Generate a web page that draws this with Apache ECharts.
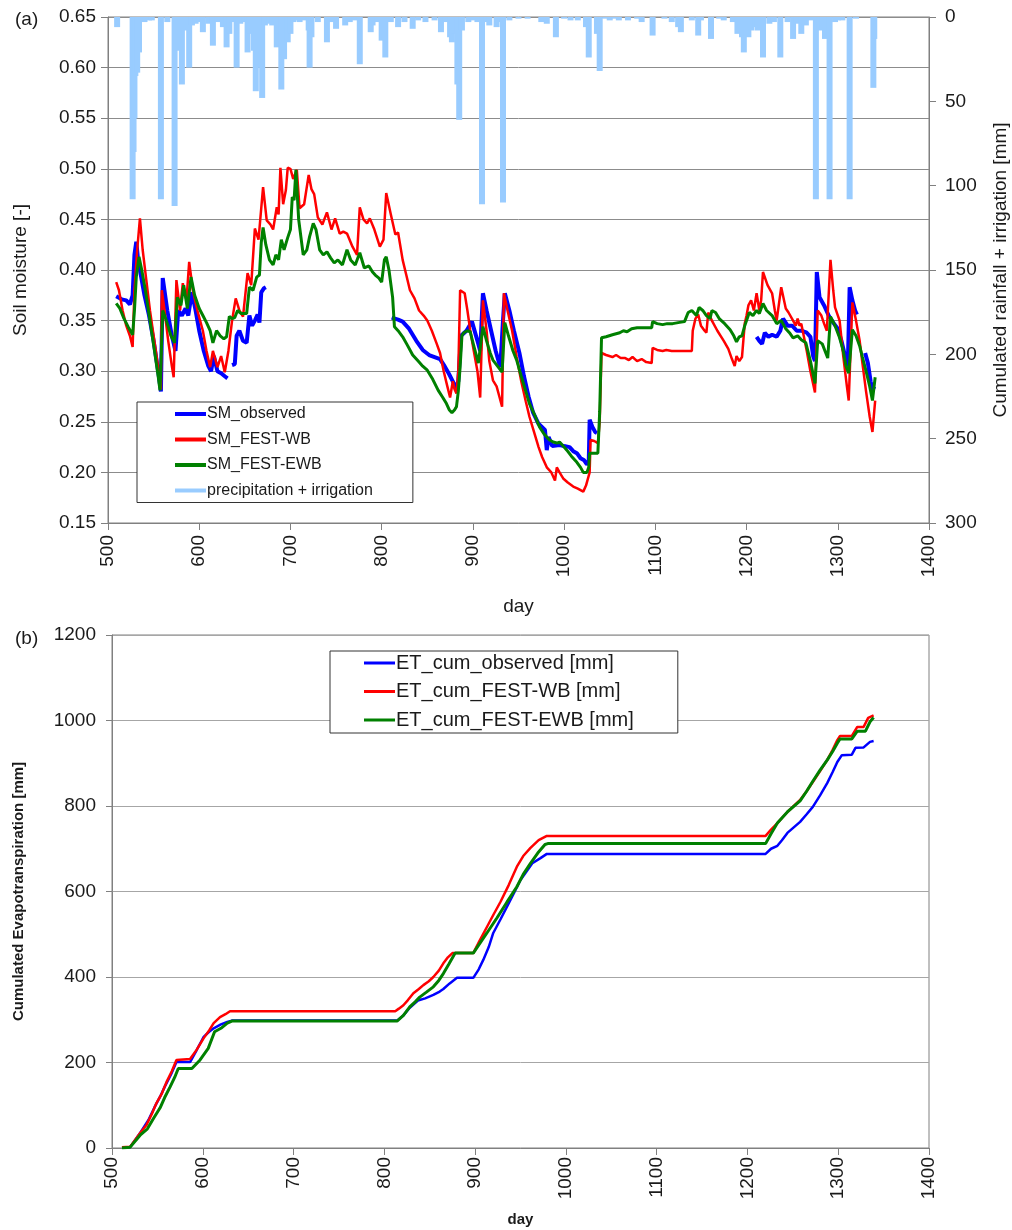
<!DOCTYPE html>
<html>
<head>
<meta charset="utf-8">
<script src="https://cdn.jsdelivr.net/npm/echarts@6/dist/echarts.min.js"></script>
<style>
html,body{margin:0;padding:0;background:#fff;}
#chart{width:1012px;height:1230px;}
</style>
</head>
<body>
<div id="chart"></div>
<script>
// ---------- Panel (a): soil moisture [day, value]; '-' marks a gap ----------
const smObserved = [
  [509,0.374],[515,0.371],[520,0.370],[524,0.366],[527,0.375],[529,0.415],[531,0.428],[533,0.41],[536,0.395],[540,0.375],
  [545,0.355],[550,0.33],[555,0.30],[558,0.28],[560,0.392],[565,0.36],[570,0.335],[574,0.32],[577,0.36],[581,0.355],
  [585,0.362],[588,0.355],[592,0.378],[596,0.36],[600,0.34],[605,0.32],[610,0.305],[613,0.30],[616,0.315],[620,0.30],
  [624,0.298],[628,0.295],[631,0.293],[633,'-'],[636,0.306],[639,0.307],[641,0.335],[644,0.34],[648,0.33],[652,0.328],
  [655,0.355],[658,0.345],[661,0.35],[664,0.356],[666,0.348],[668,0.378],[671,0.382],[673,0.383],[700,'-'],
  [811,0.353],[818,0.351],[823,0.349],[830,0.342],[838,0.33],[845,0.321],[852,0.316],[858,0.314],[864,0.312],[869,0.305],
  [874,0.297],[878,0.29],[881,0.283],[884,0.29],[887,0.335],[893,0.34],[899,0.349],[905,0.33],[908,0.32],[911,0.377],
  [915,0.36],[920,0.34],[925,0.32],[930,0.304],[933,0.35],[935,0.377],[940,0.36],[945,0.34],[951,0.318],[956,0.295],
  [961,0.275],[966,0.259],[972,0.248],[979,0.242],[981,0.222],[983,0.235],[987,0.226],[995,0.227],[1000,0.226],[1006,0.225],
  [1010,0.221],[1014,0.219],[1018,0.214],[1022,0.212],[1025,0.208],[1027,0.21],[1028,0.252],[1031,0.245],[1034,0.24],[1036,0.239],
  [1100,'-'],
  [1211,0.334],[1214,0.33],[1217,0.327],[1220,0.338],[1224,0.334],[1228,0.336],[1233,0.334],[1237,0.34],[1240,0.352],[1245,0.345],
  [1250,0.345],[1255,0.34],[1260,0.34],[1266,0.338],[1270,0.334],[1273,0.315],[1275,0.31],[1277,0.398],[1280,0.373],[1285,0.365],
  [1290,0.355],[1295,0.348],[1300,0.342],[1304,0.33],[1308,0.315],[1311,0.305],[1313,0.383],[1316,0.37],[1319,0.36],[1321,0.356],
  [1325,'-'],[1330,0.318],[1333,0.308],[1336,0.29],[1338,0.281],[1340,0.285]
];
const smFestWB = [
  [509,0.388],[512,0.38],[516,0.36],[520,0.345],[524,0.335],[527,0.324],[529,0.38],[532,0.42],[535,0.451],[538,0.42],
  [542,0.39],[546,0.36],[550,0.335],[554,0.31],[558,0.282],[559,0.38],[562,0.36],[566,0.33],[570,0.305],[572,0.294],
  [575,0.39],[579,0.36],[582,0.387],[586,0.37],[589,0.408],[593,0.38],[598,0.36],[604,0.34],[608,0.32],[612,0.304],
  [615,0.32],[620,0.304],[624,0.315],[628,0.299],[632,0.32],[636,0.35],[640,0.372],[644,0.36],[648,0.354],[653,0.397],
  [657,0.385],[661,0.441],[665,0.43],[670,0.482],[674,0.449],[678,0.445],[681,0.44],[685,0.462],[687,0.455],[689,0.501],
  [692,0.465],[695,0.479],[697,0.501],[700,0.5],[703,0.49],[707,0.499],[710,0.461],[715,0.465],[720,0.494],[723,0.48],
  [726,0.475],[730,0.452],[735,0.445],[740,0.457],[745,0.44],[749,0.451],[754,0.436],[758,0.438],[762,0.436],[768,0.423],
  [773,0.415],[776,0.462],[780,0.45],[784,0.446],[787,0.451],[792,0.44],[798,0.423],[802,0.43],[805,0.476],[810,0.455],
  [815,0.435],[818,0.437],[823,0.41],[827,0.395],[831,0.38],[836,0.372],[841,0.36],[846,0.355],[850,0.35],[855,0.34],
  [860,0.328],[864,0.318],[868,0.3],[872,0.285],[875,0.274],[878,0.29],[880,0.282],[882,0.278],[884,0.3],[886,0.38],
  [888,0.38],[891,0.377],[894,0.36],[897,0.341],[901,0.32],[905,0.3],[908,0.274],[911,0.37],[915,0.34],[918,0.31],
  [922,0.291],[926,0.285],[929,0.275],[932,0.265],[934,0.377],[938,0.36],[943,0.34],[948,0.314],[953,0.29],[958,0.27],
  [962,0.255],[967,0.24],[972,0.225],[976,0.215],[981,0.205],[986,0.2],[990,0.192],[992,0.205],[995,0.2],[999,0.194],
  [1004,0.19],[1010,0.186],[1015,0.184],[1021,0.181],[1024,0.187],[1026,0.186],[1028,0.2],[1029,0.232],[1033,0.231],[1037,0.229],
  [1039,0.25],[1041,0.318],[1046,0.316],[1053,0.314],[1057,0.316],[1062,0.313],[1067,0.313],[1071,0.311],[1075,0.314],[1080,0.31],
  [1085,0.312],[1090,0.309],[1096,0.308],[1097,0.323],[1102,0.321],[1108,0.32],[1112,0.321],[1118,0.32],[1123,0.32],[1128,0.32],
  [1135,0.32],[1140,0.32],[1141,0.34],[1144,0.352],[1147,0.356],[1150,0.345],[1154,0.34],[1156,0.338],[1158,0.358],[1162,0.35],
  [1168,0.34],[1175,0.33],[1180,0.322],[1184,0.312],[1187,0.305],[1189,0.315],[1192,0.31],[1195,0.314],[1198,0.347],[1200,0.355],
  [1202,0.365],[1205,0.37],[1208,0.36],[1211,0.377],[1214,0.36],[1216,0.37],[1218,0.398],[1223,0.385],[1228,0.377],[1231,0.36],
  [1233,0.35],[1238,0.383],[1243,0.362],[1246,0.358],[1251,0.35],[1254,0.345],[1256,0.352],[1258,0.345],[1260,0.347],[1262,0.338],
  [1266,0.32],[1270,0.3],[1275,0.279],[1278,0.36],[1282,0.355],[1285,0.347],[1288,0.34],[1292,0.41],[1295,0.38],[1297,0.363],
  [1302,0.35],[1306,0.315],[1310,0.285],[1312,0.271],[1316,0.368],[1320,0.35],[1324,0.33],[1327,0.308],[1331,0.28],[1335,0.255],
  [1338,0.24],[1341,0.271]
];
const smFestEWB = [
  [509,0.367],[513,0.362],[517,0.353],[522,0.344],[527,0.336],[529,0.36],[531,0.393],[534,0.413],[537,0.40],[541,0.38],
  [546,0.35],[551,0.32],[555,0.295],[557,0.281],[560,0.36],[564,0.35],[569,0.335],[573,0.328],[576,0.373],[580,0.365],
  [583,0.385],[587,0.362],[591,0.393],[595,0.375],[600,0.362],[604,0.355],[608,0.348],[612,0.34],[615,0.328],[619,0.34],
  [623,0.335],[627,0.332],[630,0.334],[633,0.354],[636,0.352],[639,0.353],[642,0.36],[646,0.357],[652,0.357],[655,0.383],
  [659,0.38],[663,0.393],[666,0.395],[668,0.427],[670,0.442],[673,0.425],[677,0.41],[681,0.405],[684,0.415],[687,0.41],
  [690,0.43],[693,0.42],[697,0.432],[700,0.44],[702,0.472],[704,0.469],[706,0.499],[709,0.45],[714,0.415],[718,0.42],
  [721,0.433],[725,0.446],[728,0.44],[732,0.42],[736,0.415],[740,0.418],[744,0.412],[748,0.407],[752,0.41],[757,0.405],
  [762,0.42],[766,0.41],[771,0.405],[776,0.417],[781,0.402],[786,0.404],[790,0.398],[793,0.395],[797,0.392],[800,0.388],
  [803,0.41],[805,0.413],[808,0.4],[812,0.373],[814,0.344],[818,0.34],[823,0.334],[828,0.326],[834,0.316],[840,0.31],
  [845,0.305],[850,0.301],[856,0.292],[862,0.281],[867,0.274],[871,0.268],[874,0.262],[877,0.259],[880,0.262],[882,0.265],
  [884,0.28],[886,0.304],[888,0.335],[890,0.338],[894,0.34],[897,0.339],[901,0.325],[906,0.308],[909,0.33],[911,0.344],
  [915,0.33],[919,0.318],[922,0.311],[927,0.305],[932,0.299],[935,0.348],[939,0.335],[944,0.32],[948,0.311],[953,0.295],
  [958,0.28],[962,0.268],[968,0.256],[973,0.245],[978,0.238],[984,0.232],[988,0.23],[992,0.229],[995,0.23],[999,0.226],
  [1003,0.222],[1008,0.216],[1014,0.21],[1018,0.205],[1021,0.2],[1025,0.2],[1027,0.205],[1028,0.219],[1032,0.219],[1037,0.219],
  [1039,0.26],[1041,0.333],[1046,0.334],[1053,0.336],[1057,0.337],[1061,0.338],[1065,0.34],[1069,0.339],[1074,0.342],[1080,0.343],
  [1088,0.343],[1096,0.343],[1097,0.349],[1102,0.347],[1108,0.346],[1113,0.347],[1119,0.347],[1125,0.348],[1132,0.349],[1136,0.358],
  [1140,0.36],[1145,0.355],[1148,0.363],[1152,0.36],[1156,0.355],[1160,0.352],[1162,0.36],[1166,0.358],[1170,0.352],[1176,0.347],
  [1182,0.341],[1186,0.335],[1189,0.329],[1192,0.334],[1195,0.335],[1198,0.345],[1200,0.35],[1203,0.358],[1207,0.355],[1211,0.36],
  [1214,0.357],[1218,0.367],[1222,0.36],[1228,0.355],[1233,0.347],[1238,0.35],[1243,0.342],[1247,0.338],[1251,0.333],[1256,0.335],
  [1260,0.331],[1265,0.328],[1270,0.31],[1275,0.288],[1278,0.33],[1283,0.327],[1286,0.32],[1289,0.313],[1292,0.354],[1297,0.345],
  [1302,0.333],[1306,0.32],[1309,0.305],[1312,0.298],[1316,0.341],[1320,0.335],[1324,0.325],[1327,0.314],[1331,0.3],[1335,0.285],
  [1338,0.271],[1341,0.294]
];
// precipitation + irrigation [day, mm]
const precipIrrigation = [
  [510,6],[527,108],[528,80],[529,60],[530,35],[532,33],[534,21],[540,3],[545,2],[548,2],[558,108],[565,3],[573,112],
  [575,20],[578,6],[581,40],[584,8],[589,30],[592,5],[596,4],[600,3],[604,9],[610,4],[615,17],[620,3],[626,6],[630,18],
  [633,10],[636,3],[641,30],[645,4],[650,3],[653,21],[655,10],[660,20],[662,44],[666,30],[669,48],[672,5],[677,4],[680,5],
  [685,18],[688,10],[690,43],[693,25],[697,15],[700,10],[703,3],[705,2],[710,3],[715,2],[720,8],[721,30],[723,12],[730,3],
  [740,15],[745,3],[750,7],[760,5],[765,3],[770,2],[776,28],[788,9],[790,5],[795,3],[800,14],[804,24],[810,3],[818,6],
  [825,3],[834,7],[840,2],[848,3],[858,2],[865,9],[870,3],[875,12],[877,15],[880,10],[883,40],[885,61],[888,8],[895,3],
  [900,2],[905,3],[910,111],[915,3],[918,5],[926,6],[930,3],[933,110],[940,2],[950,1],[960,1],[975,3],[981,4],[991,12],
  [1000,1],[1007,2],[1015,2],[1024,6],[1027,24],[1036,10],[1039,32],[1045,1],[1050,2],[1055,1],[1060,2],[1070,2],[1080,1],
  [1085,3],[1097,11],[1110,1],[1118,3],[1125,6],[1128,9],[1140,2],[1147,11],[1150,2],[1161,13],[1170,1],[1175,2],[1185,3],
  [1190,10],[1195,12],[1197,21],[1202,12],[1205,8],[1207,5],[1210,6],[1212,8],[1218,24],[1225,4],[1230,3],[1237,24],
  [1245,3],[1251,13],[1255,4],[1260,10],[1265,5],[1270,2],[1276,108],[1280,8],[1283,6],[1286,13],[1291,108],[1297,3],
  [1300,2],[1305,2],[1313,108],[1320,1],[1339,42],[1340,13]
];
// ---------- Panel (b): cumulated ET [day, mm] ----------
const etObserved = [
  [511,2],[520,2],[531,35],[540,65],[547,96],[553,120],[558,143],[565,172],[571,201],[586,201],[593,228],[601,260],
  [607,272],[612,280],[620,289],[627,295],[632,298],[814,298],[821,310],[828,328],[837,345],[845,350],[854,358],[861,366],
  [865,372],[872,385],[880,398],[898,398],[904,418],[909,440],[915,470],[920,503],[928,535],[935,564],[943,597],[950,627],
  [957,648],[963,666],[972,678],[979,688],[1220,688],[1226,700],[1233,707],[1238,720],[1244,737],[1251,750],[1258,763],
  [1265,780],[1272,798],[1280,825],[1288,854],[1294,880],[1299,903],[1304,919],[1315,920],[1319,936],[1328,937],[1335,950],[1339,952]
];
const etFestWB = [
  [511,2],[520,3],[531,35],[538,54],[544,80],[549,105],[555,128],[560,154],[566,180],[571,206],[586,208],[593,229],
  [601,257],[607,275],[612,292],[619,306],[625,313],[630,320],[812,320],[816,326],[821,334],[826,346],[832,362],[838,372],
  [843,381],[849,390],[854,400],[860,415],[865,432],[870,446],[875,456],[898,456],[905,485],[913,517],[920,545],[928,576],
  [937,615],[946,658],[953,683],[961,702],[970,720],[979,730],[1220,730],[1226,745],[1233,760],[1238,772],[1244,786],
  [1251,800],[1258,814],[1265,834],[1272,856],[1280,882],[1288,908],[1294,932],[1299,954],[1302,964],[1315,964],
  [1321,985],[1328,985],[1333,1006],[1339,1012]
];
const etFestEWB = [
  [511,0],[520,2],[531,30],[539,45],[546,70],[553,94],[558,118],[564,143],[569,165],[573,186],[588,186],[597,206],
  [606,233],[613,272],[620,280],[627,292],[632,297],[814,297],[821,310],[828,330],[834,342],[839,353],[846,364],[854,377],
  [860,392],[865,408],[871,430],[878,456],[898,456],[905,478],[913,503],[924,538],[935,575],[946,611],[953,640],[961,666],
  [969,690],[977,710],[980,712],[1220,712],[1226,735],[1233,760],[1238,772],[1244,786],[1251,799],[1258,812],[1265,834],
  [1272,858],[1280,884],[1288,908],[1294,928],[1299,947],[1302,957],[1315,957],[1321,975],[1330,975],[1335,997],[1339,1007]
];

const FONT = '"Liberation Sans", Arial, sans-serif';
const TXT = '#1a1a1a';
const AXC = '#808080';
const PRECIP_COLOR = '#99ccff';

const chart = echarts.init(document.getElementById('chart'), null, {renderer:'canvas'});
const baseX = (gi, nameBold, nameGap, margin) => ({
  type:'value', gridIndex:gi, min:500, max:1400, interval:100,
  name:'day', nameLocation:'middle', nameGap:nameGap,
  nameTextStyle:{fontFamily:FONT, fontSize: nameBold?15:19, fontWeight: nameBold?'bold':'normal', color:TXT},
  axisLine:{show:true, onZero:false, lineStyle:{color:AXC}},
  axisTick:{show:true, inside:false, length:7, lineStyle:{color:AXC}},
  axisLabel:{rotate:90, fontFamily:FONT, fontSize:19, color:TXT, margin:margin, formatter:v=>String(v)},
  splitLine:{show:false}
});

// precipitation drawn as thin rectangles hanging from 0 on the inverted right axis
function renderPrecip(params, api) {
  const day = api.value(0), mm = api.value(1);
  const top = api.coord([day, 0]);
  const bot = api.coord([day, mm]);
  const w = 6;
  return {
    type:'rect',
    shape:{x: top[0] - w/2, y: Math.min(top[1], bot[1]), width: w, height: Math.abs(bot[1] - top[1])},
    style:{fill: PRECIP_COLOR}
  };
}

const option = {
  animation:false,
  backgroundColor:'#ffffff',
  textStyle:{fontFamily:FONT},
  title:[
    {text:'(a)', left:10, top:5, textStyle:{fontFamily:FONT, fontSize:19, fontWeight:'normal', color:TXT}},
    {text:'(b)', left:10, top:624, textStyle:{fontFamily:FONT, fontSize:19, fontWeight:'normal', color:TXT}}
  ],
  grid:[
    {left:108, top:17, width:821, height:506, show:true, borderColor:AXC, borderWidth:1,
     containLabel:false, outerBoundsMode:'none'},
    {left:112, top:635, width:817, height:513, show:true, borderColor:AXC, borderWidth:1,
     containLabel:false, outerBoundsMode:'none'}
  ],
  legend:[
    {
      data:['SM_observed','SM_FEST-WB','SM_FEST-EWB','precipitation + irrigation'],
      orient:'vertical', left:137, top:402, icon:'rect', itemWidth:31, itemHeight:4, itemGap:9.5,
      borderColor:'#333', borderWidth:1, padding:[4,40,4,38], backgroundColor:'#fff',
      textStyle:{fontFamily:FONT, fontSize:16, color:TXT, padding:[0,0,0,-4]}, selectedMode:false
    },
    {
      data:['ET_cum_observed [mm]','ET_cum_FEST-WB [mm]','ET_cum_FEST-EWB [mm]'],
      orient:'vertical', left:330, top:651, icon:'rect', itemWidth:31, itemHeight:3, itemGap:8.5,
      borderColor:'#333', borderWidth:1, padding:[2,44,3,34], backgroundColor:'#fff',
      textStyle:{fontFamily:FONT, fontSize:20, color:TXT, padding:[0,0,0,-4]}, selectedMode:false
    }
  ],
  xAxis:[ baseX(0,false,74,12), baseX(1,true,64,9) ],
  yAxis:[
    { type:'value', gridIndex:0, min:0.15, max:0.65, interval:0.05, position:'left',
      name:'Soil moisture [-]', nameLocation:'middle', nameGap:78,
      nameTextStyle:{fontFamily:FONT, fontSize:19, color:TXT},
      axisLine:{show:true, lineStyle:{color:AXC}},
      axisTick:{show:true, length:7, lineStyle:{color:AXC}},
      axisLabel:{fontFamily:FONT, fontSize:19, color:TXT, margin:12, formatter:v=>v.toFixed(2)},
      splitLine:{show:true, lineStyle:{color:'#8c8c8c', width:1}} },
    { type:'value', gridIndex:0, min:0, max:300, interval:50, position:'right', inverse:true,
      name:'Cumulated rainfall + irrigation [mm]', nameLocation:'middle', nameGap:62, nameRotate:90,
      nameTextStyle:{fontFamily:FONT, fontSize:19, color:TXT},
      axisLine:{show:true, lineStyle:{color:AXC}},
      axisTick:{show:true, length:7, lineStyle:{color:AXC}},
      axisLabel:{fontFamily:FONT, fontSize:19, color:TXT, margin:16, formatter:v=>String(v)},
      splitLine:{show:false} },
    { type:'value', gridIndex:1, min:0, max:1200, interval:200, position:'left',
      name:'Cumulated Evapotranspiration [mm]', nameLocation:'middle', nameGap:86,
      nameTextStyle:{fontFamily:FONT, fontSize:15, fontWeight:'bold', color:TXT},
      axisLine:{show:true, lineStyle:{color:AXC}},
      axisTick:{show:true, length:6, lineStyle:{color:AXC}},
      axisLabel:{fontFamily:FONT, fontSize:19, color:TXT, margin:16, formatter:v=>String(v)},
      splitLine:{show:true, lineStyle:{color:'#a6a6a6', width:1}} }
  ],
  series:[
    { name:'precipitation + irrigation', type:'custom', xAxisIndex:0, yAxisIndex:1, data:precipIrrigation,
      renderItem:renderPrecip, encode:{x:0, y:1}, itemStyle:{color:PRECIP_COLOR}, clip:true, z:1 },
    { name:'SM_observed', type:'line', xAxisIndex:0, yAxisIndex:0, data:smObserved, showSymbol:false, symbol:'none',
      connectNulls:false, lineStyle:{color:'#0000ff', width:4}, itemStyle:{color:'#0000ff'}, z:3 },
    { name:'SM_FEST-WB', type:'line', xAxisIndex:0, yAxisIndex:0, data:smFestWB, showSymbol:false, symbol:'none',
      lineStyle:{color:'#ff0000', width:2.5}, itemStyle:{color:'#ff0000'}, z:4 },
    { name:'SM_FEST-EWB', type:'line', xAxisIndex:0, yAxisIndex:0, data:smFestEWB, showSymbol:false, symbol:'none',
      lineStyle:{color:'#008000', width:3}, itemStyle:{color:'#008000'}, z:5 },
    { name:'ET_cum_observed [mm]', type:'line', xAxisIndex:1, yAxisIndex:2, data:etObserved, showSymbol:false, symbol:'none',
      lineStyle:{color:'#0000ff', width:2.5}, itemStyle:{color:'#0000ff'}, z:3 },
    { name:'ET_cum_FEST-WB [mm]', type:'line', xAxisIndex:1, yAxisIndex:2, data:etFestWB, showSymbol:false, symbol:'none',
      lineStyle:{color:'#ff0000', width:2.5}, itemStyle:{color:'#ff0000'}, z:4 },
    { name:'ET_cum_FEST-EWB [mm]', type:'line', xAxisIndex:1, yAxisIndex:2, data:etFestEWB, showSymbol:false, symbol:'none',
      lineStyle:{color:'#008000', width:3}, itemStyle:{color:'#008000'}, z:5 }
  ]
};
chart.setOption(option);
</script>
</body>
</html>
